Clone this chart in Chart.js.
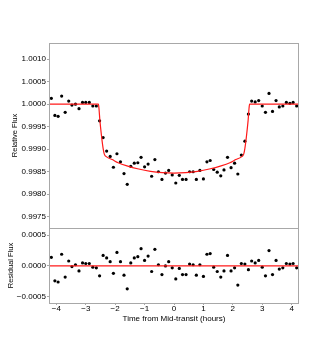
<!DOCTYPE html>
<html>
<head>
<meta charset="utf-8">
<script src="https://cdn.jsdelivr.net/npm/chart.js@4.4.1/dist/chart.umd.min.js"></script>
<style>
  body { margin: 0; background: #fff; }
  #wrap { position: relative; width: 332px; height: 356px; }
  /* canvases overlap by 5px: the y tick labels reserve that much above/below the plot */
  #topBox { position: absolute; left: 0; top: 0; width: 332px; height: 233px; }
  #botBox { position: absolute; left: 0; top: 223px; width: 332px; height: 133px; }
</style>
</head>
<body>
<div id="wrap">
  <div id="topBox"><canvas id="fluxChart"></canvas></div>
  <div id="botBox"><canvas id="resChart"></canvas></div>
</div>
<script>
// time of each observation (hours from mid-transit)
const times = [-4.17, -4.05, -3.94, -3.82, -3.70, -3.58, -3.47, -3.35, -3.23, -3.11, -3.00, -2.88,
  -2.76, -2.64, -2.53, -2.41, -2.29, -2.17, -2.06, -1.94, -1.82, -1.70, -1.59, -1.47,
  -1.35, -1.23, -1.12, -1.00, -0.88, -0.76, -0.65, -0.53, -0.41, -0.29, -0.18, -0.06,
  0.06, 0.18, 0.29, 0.41, 0.53, 0.65, 0.76, 0.88, 1.00, 1.12, 1.23, 1.35,
  1.47, 1.59, 1.70, 1.82, 1.94, 2.06, 2.17, 2.29, 2.41, 2.53, 2.64, 2.76,
  2.88, 3.00, 3.11, 3.23, 3.35, 3.47, 3.58, 3.70, 3.82, 3.94, 4.05, 4.17];

// measured relative flux
const flux = [1.00013, 0.99975, 0.99973, 1.00018, 0.99982, 1.00007, 0.99998, 1.00000, 0.99990, 1.00004, 1.00004, 1.00004,
  0.99996, 0.99996, 0.99963, 0.99926, 0.99896, 0.99884, 0.99860, 0.99890, 0.99872, 0.99846, 0.99822, 0.99862,
  0.99869, 0.99870, 0.99882, 0.99861, 0.99867, 0.99840, 0.99877, 0.99850, 0.99833, 0.99847, 0.99853, 0.99843,
  0.99825, 0.99842, 0.99833, 0.99833, 0.99850, 0.99850, 0.99833, 0.99853, 0.99834, 0.99872, 0.99875, 0.99855,
  0.99849, 0.99841, 0.99854, 0.99882, 0.99859, 0.99869, 0.99845, 0.99887, 0.99918, 0.99978, 1.00007, 1.00005,
  1.00008, 0.99996, 0.99982, 1.00024, 0.99984, 1.00008, 0.99994, 0.99996, 1.00004, 1.00002, 1.00004, 0.99996];

// residuals (data - model)
const residual = [0.00014, -0.00024, -0.00026, 0.00019, -0.00018, 0.00008, -0.00001, 0.00002, -0.00008, 0.00005, 0.00004, 0.00004,
  -0.00002, -0.00003, -0.00016, 0.00017, 0.00013, 0.00007, -0.00012, 0.00022, 0.00007, -0.00015, -0.00037, 0.00005,
  0.00013, 0.00015, 0.00028, 0.00009, 0.00016, -0.00009, 0.00027, 0.00002, -0.00014, 0.00000, 0.00007, -0.00003,
  -0.00021, -0.00004, -0.00014, -0.00014, 0.00003, 0.00002, -0.00015, 0.00002, -0.00017, 0.00019, 0.00020, -0.00002,
  -0.00009, -0.00018, -0.00008, 0.00017, -0.00008, -0.00003, -0.00031, 0.00004, 0.00003, -0.00006, 0.00008, 0.00005,
  0.00009, -0.00002, -0.00016, 0.00025, -0.00014, 0.00009, -0.00005, -0.00003, 0.00004, 0.00003, 0.00004, -0.00003];

// transit model curve
const modelTimes = [-4.25, -2.57, -2.55, -2.52, -2.46, -2.41, -2.37, -2.29, -2.10, -1.90, -1.60, -1.20, -0.80, -0.40, 0,
  0.40, 0.80, 1.20, 1.60, 1.90, 2.10, 2.29, 2.37, 2.41, 2.46, 2.52, 2.55, 2.57, 4.25];
const modelFlux = [1.0, 1.0, 0.9999, 0.99964, 0.99927, 0.99902, 0.99889, 0.99883, 0.99877, 0.99870, 0.99863, 0.99856, 0.99851, 0.99848, 0.99847,
  0.99848, 0.99851, 0.99856, 0.99863, 0.99870, 0.99877, 0.99883, 0.99889, 0.99902, 0.99927, 0.99964, 0.9999, 1.0, 1.0];

const xTicks = [-4, -3, -2, -1, 0, 1, 2, 3, 4];
const fluxTicks = [0.9975, 0.998, 0.9985, 0.999, 0.9995, 1.0, 1.0005, 1.001];
const resTicks = [-0.0005, 0, 0.0005];

const FONT = "'Liberation Sans', Arial, sans-serif";
const frameColor = "#a8a8a8";
const minus = s => s.replace("-", "\u2212");

// gray box around the plot area
const framePlugin = {
  id: "frame",
  afterDraw(chart) {
    const a = chart.chartArea, ctx = chart.ctx;
    ctx.save();
    ctx.strokeStyle = frameColor;
    ctx.lineWidth = 1;
    ctx.strokeRect(a.left + 0.5, a.top + 0.5, a.right - a.left - 1, a.bottom - a.top);
    ctx.restore();
  }
};

const pts = (xs, ys) => xs.map((x, i) => ({ x: x, y: ys[i] }));

new Chart(document.getElementById("fluxChart"), {
  type: "scatter",
  data: {
    datasets: [
      {
        data: pts(modelTimes, modelFlux),
        showLine: true,
        borderColor: "#ff1a1a",
        borderWidth: 1.2,
        pointRadius: 0,
        cubicInterpolationMode: "monotone",
      },
      {
        data: pts(times, flux),
        backgroundColor: "#000",
        borderColor: "#000",
        borderWidth: 0,
        pointRadius: 1.6,
      },
    ],
  },
  options: {
    responsive: true,
    maintainAspectRatio: false,
    animation: false,
    layout: { padding: { top: 43, right: 33, bottom: 0, left: 0 } },
    plugins: { legend: { display: false }, tooltip: { enabled: false } },
    scales: {
      x: {
        type: "linear", min: -4.25, max: 4.25, display: false,
      },
      y: {
        min: 0.99725, max: 1.00136,
        afterFit: (axis) => { axis.width = 49; },
        afterBuildTicks: (axis) => { axis.ticks = fluxTicks.map(v => ({ value: v })); },
        border: { display: false },
        grid: { drawOnChartArea: false, tickLength: 2, color: frameColor },
        ticks: {
          padding: 1,
          color: "#000",
          font: { family: FONT, size: 8, lineHeight: 1 },
          callback: v => minus(v.toFixed(4)),
        },
        title: {
          display: true, text: "Relative Flux", color: "#000",
          font: { family: FONT, size: 7.5 }, padding: { top: 10, bottom: 0 },
        },
      },
    },
  },
  plugins: [framePlugin],
});

new Chart(document.getElementById("resChart"), {
  type: "scatter",
  data: {
    datasets: [
      {
        data: [{ x: -4.25, y: 0 }, { x: 4.25, y: 0 }],
        showLine: true,
        borderColor: "#ff1a1a",
        borderWidth: 1.2,
        pointRadius: 0,
      },
      {
        data: pts(times, residual),
        backgroundColor: "#000",
        borderColor: "#000",
        borderWidth: 0,
        pointRadius: 1.6,
      },
    ],
  },
  options: {
    responsive: true,
    maintainAspectRatio: false,
    animation: false,
    layout: { padding: { top: 0, right: 33, bottom: 32, left: 0 } },
    plugins: { legend: { display: false }, tooltip: { enabled: false } },
    scales: {
      x: {
        type: "linear", min: -4.25, max: 4.25,
        afterFit: (axis) => { axis.height = 21; },
        afterBuildTicks: (axis) => { axis.ticks = xTicks.map(v => ({ value: v })); },
        border: { display: false },
        grid: { drawOnChartArea: false, tickLength: 2, color: frameColor },
        ticks: {
          padding: 0, maxRotation: 0,
          color: "#000",
          font: { family: FONT, size: 8, lineHeight: 1 },
          callback: v => minus(String(v)),
        },
        title: {
          display: true, text: "Time from Mid-transit (hours)", color: "#000",
          font: { family: FONT, size: 8 }, padding: { top: 0, bottom: 0 },
        },
      },
      y: {
        min: -0.0006, max: 0.000615,
        afterFit: (axis) => { axis.width = 49; },
        afterBuildTicks: (axis) => { axis.ticks = resTicks.map(v => ({ value: v })); },
        border: { display: false },
        grid: { drawOnChartArea: false, tickLength: 2, color: frameColor },
        ticks: {
          padding: 1,
          color: "#000",
          font: { family: FONT, size: 8, lineHeight: 1 },
          callback: v => minus(v.toFixed(4)),
        },
        title: {
          display: true, text: "Residual Flux", color: "#000",
          font: { family: FONT, size: 7.5 }, padding: { top: 6, bottom: 0 },
        },
      },
    },
  },
  plugins: [framePlugin],
});
</script>
</body>
</html>
